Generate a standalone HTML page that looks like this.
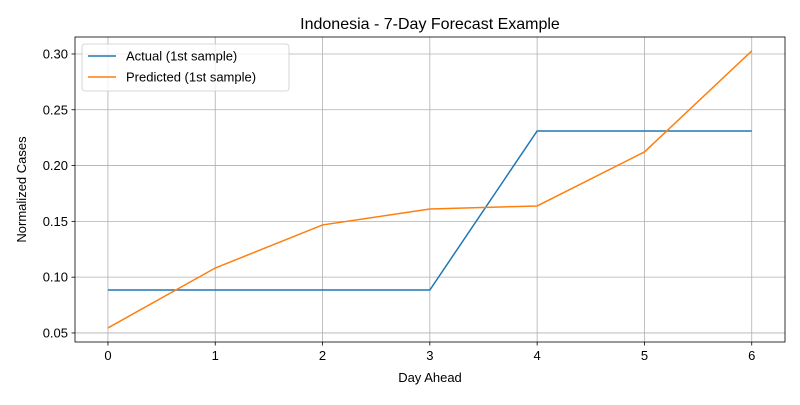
<!DOCTYPE html>
<html><head><meta charset="utf-8"><style>
body{margin:0;background:#fff;}
svg text{font-family:"Liberation Sans","DejaVu Sans",sans-serif;fill:#000;}
</style></head><body>
<svg id="chart" width="800" height="400" xmlns="http://www.w3.org/2000/svg"></svg>
<script>
const days = [0,1,2,3,4,5,6];
const actualValues = [0.0885,0.0885,0.0885,0.0885,0.231,0.231,0.231];
const predictedValues = [0.0545,0.1082,0.1468,0.1611,0.1638,0.2122,0.3027];
const xTicks = [0,1,2,3,4,5,6];
const yTicks = [0.05,0.10,0.15,0.20,0.25,0.30];
const yTickLabels = ["0.05","0.10","0.15","0.20","0.25","0.30"];

const L=75,R=785,T=37,B=342;
const xMin=-0.307,xMax=6.31,yMin=0.0419,yMax=0.3152;
const sx=v=>L+(v-xMin)/(xMax-xMin)*(R-L);
const sy=v=>B-(v-yMin)/(yMax-yMin)*(B-T);
const svg=document.getElementById('chart');
const NS='http://www.w3.org/2000/svg';
function mk(tag,attrs,parent){const e=document.createElementNS(NS,tag);for(const k in attrs)e.setAttribute(k,attrs[k]);(parent||svg).appendChild(e);return e;}

const grid=mk('g',{});


xTicks.forEach((t,i)=>{
  const x=sx(t);
  const gl=mk('line',{x1:x,x2:x,y1:T,y2:B,stroke:'#b0b0b0','stroke-width':0.8},grid);
  
  
  const tk=mk('line',{x1:x,x2:x,y1:B,y2:B+3.5,stroke:'#000','stroke-width':0.8});
  
  
  const tl=mk('text',{x:x,y:B+18,'text-anchor':'middle','font-size':13});
  tl.textContent=String(t);
  
  
});
yTicks.forEach((t,i)=>{
  const y=sy(t);
  const gl=mk('line',{x1:L,x2:R,y1:y,y2:y,stroke:'#b0b0b0','stroke-width':0.8},grid);
  
  
  const tk=mk('line',{x1:L-3.5,x2:L,y1:y,y2:y,stroke:'#000','stroke-width':0.8});
  
  
  const tl=mk('text',{x:L-7,y:y+4.5,'text-anchor':'end','font-size':13});
  tl.textContent=yTickLabels[i];
  
  
});

function series(vals,color,name){
  const p=mk('polyline',{points:days.map((d,i)=>sx(d)+','+sy(vals[i])).join(' '),fill:'none',stroke:color,'stroke-width':1.5});
  
  
}
series(actualValues,'#1f77b4','actual-line');
series(predictedValues,'#ff7f0e','predicted-line');

const frame=mk('rect',{x:L,y:T,width:R-L,height:B-T,fill:'none',stroke:'#000','stroke-width':0.8});



const title=mk('text',{x:(L+R)/2,y:29,'text-anchor':'middle','font-size':16});
title.textContent='Indonesia - 7-Day Forecast Example';


const xl=mk('text',{x:(L+R)/2,y:382,'text-anchor':'middle','font-size':13});
xl.textContent='Day Ahead';


const yl=mk('text',{x:0,y:0,'text-anchor':'middle','font-size':13,transform:'translate(26,'+((T+B)/2)+') rotate(-90)'});
yl.textContent='Normalized Cases';



const lg=mk('g',{});


mk('rect',{x:82,y:44,width:207,height:47,rx:3,fill:'#fff','fill-opacity':0.8,stroke:'#ccc','stroke-width':0.8},lg);
[['Actual (1st sample)','#1f77b4',56],['Predicted (1st sample)','#ff7f0e',77]].forEach(([lab,c,y])=>{
  const e=mk('g',{},lg);
  
  
  mk('line',{x1:88,x2:116,y1:y,y2:y,stroke:c,'stroke-width':1.5},e);
  const t=mk('text',{x:126,y:y+4.5,'font-size':13},e);
  t.textContent=lab;
});
</script>
</body></html>
